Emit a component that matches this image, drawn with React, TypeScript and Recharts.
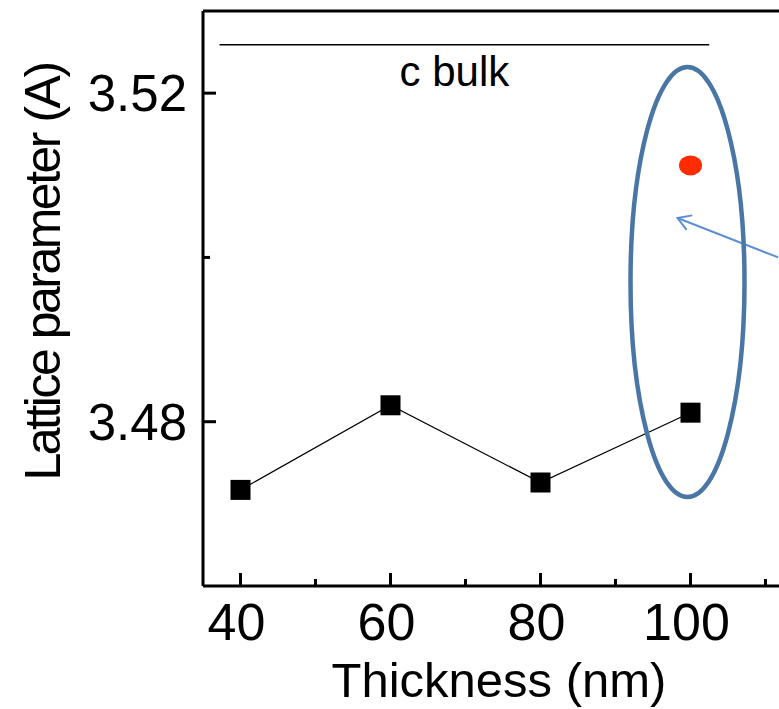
import {
  ComposedChart,
  Line,
  Scatter,
  XAxis,
  YAxis,
  ReferenceLine,
  ReferenceDot,
} from "recharts";

const thickness = [40, 60, 80, 100];
const latticeC = [3.4717, 3.482, 3.4726, 3.4811];

const highlightThickness = [100];
const highlightC = [3.5112];

const bulkC = 3.5259;
const bulkSpan = [37.2, 102.5];
const bulkLabel = "c bulk";

const xTicks = [40, 50, 60, 70, 80, 90, 100, 110];
const xMajor = [40, 60, 80, 100];
const yTicks = [3.48, 3.5, 3.52];
const yMajor = [3.48, 3.52];

// annotation ellipse centre and arrow (data units)
const ellipseCentre = { x: 99.6, y: 3.497 };
const arrowFrom = { x: 111.7, y: 3.5 };
const arrowTo = { x: 98.27, y: 3.5048 };

const mainData = thickness.map((t, i) => ({ x: t, y: latticeC[i] }));
const redData = highlightThickness.map((t, i) => ({ x: t, y: highlightC[i] }));

const FONT = "'Liberation Sans', Arial, sans-serif";

function XTick(props: any) {
  const { x, y, payload } = props;
  const major = xMajor.includes(payload.value);
  return (
    <g>
      <line x1={x} x2={x} y1={y} y2={y - (major ? 13 : 7)} stroke="#000" strokeWidth={3} />
      {major && (
        <text x={x - 4} y={y + 54} textAnchor="middle" fontSize={52} fontFamily={FONT} fill="#000">
          {payload.value}
        </text>
      )}
    </g>
  );
}

function YTick(props: any) {
  const { x, y, payload } = props;
  const major = yMajor.some((v) => Math.abs(v - payload.value) < 1e-6);
  return (
    <g>
      <line x1={x} x2={x + (major ? 13 : 7)} y1={y} y2={y} stroke="#000" strokeWidth={3} />
      {major && (
        <text x={x - 16} y={y + 18} textAnchor="end" fontSize={51} fontFamily={FONT} fill="#000">
          {payload.value.toFixed(2)}
        </text>
      )}
    </g>
  );
}

function Square(props: any) {
  const { cx, cy } = props;
  if (cx == null || cy == null) return null;
  return <rect x={cx - 10} y={cy - 10} width={20} height={20} fill="#000" />;
}

function RedDot(props: any) {
  const { cx, cy } = props;
  if (cx == null || cy == null) return null;
  return <ellipse cx={cx} cy={cy} rx={11.5} ry={10} fill="#fe2c00" />;
}

function Ellipse(props: any) {
  const { cx, cy } = props;
  return <ellipse cx={cx} cy={cy} rx={57} ry={215} fill="none" stroke="#4a76a6" strokeWidth={4.5} />;
}

function Arrow(props: any) {
  const { x1, y1, x2, y2 } = props;
  const ang = Math.atan2(y1 - y2, x1 - x2);
  const len = 15;
  const spread = 0.55;
  const ax = x2 + len * Math.cos(ang + spread);
  const ay = y2 + len * Math.sin(ang + spread);
  const bx = x2 + len * Math.cos(ang - spread);
  const by = y2 + len * Math.sin(ang - spread);
  return (
    <g stroke="#5b8fd2" strokeWidth={2} fill="none">
      <line x1={x1} y1={y1} x2={x2} y2={y2} />
      <polyline points={`${ax},${ay} ${x2},${y2} ${bx},${by}`} />
    </g>
  );
}

function YLabel() {
  return (
    <text
      x={60}
      y={272}
      transform="rotate(-90 60 272)"
      textAnchor="middle"
      fontSize={50}
      letterSpacing={-2.5}
      fontFamily={FONT}
      fill="#000"
    >
      Lattice parameter (A)
    </text>
  );
}

export default function App() {
  return (
    <div style={{ position: "absolute", left: 0, top: 0, background: "#fff" }}>
      <ComposedChart width={779} height={709} margin={{ top: 11, right: 0, bottom: 0, left: 0 }}>
        <XAxis
          type="number"
          dataKey="x"
          domain={[35, 111.8]}
          ticks={xTicks}
          interval={0}
          tickSize={0}
          tickMargin={0}
          tick={<XTick />}
          height={123}
          axisLine={{ stroke: "#000", strokeWidth: 3 }}
          allowDataOverflow
          label={{
            value: "Thickness (nm)",
            position: "insideBottom",
            offset: 12,
            dx: 8,
            fontSize: 49,
            fill: "#000",
            fontFamily: FONT,
          }}
        />
        <YAxis
          type="number"
          dataKey="y"
          domain={[3.46, 3.53]}
          ticks={yTicks}
          interval={0}
          tickSize={0}
          tickMargin={0}
          tick={<YTick />}
          width={203}
          axisLine={{ stroke: "#000", strokeWidth: 3 }}
          allowDataOverflow
          label={<YLabel />}
        />
        <ReferenceLine y={3.53} stroke="#000" strokeWidth={3} />
        <ReferenceLine
          segment={[
            { x: bulkSpan[0], y: bulkC },
            { x: bulkSpan[1], y: bulkC },
          ]}
          stroke="#000"
          strokeWidth={1.5}
          label={{
            value: bulkLabel,
            position: "bottom",
            offset: 12,
            dx: -10,
            fontSize: 42,
            fill: "#000",
            fontFamily: FONT,
          }}
        />
        <Line
          data={mainData}
          dataKey="y"
          stroke="#000"
          strokeWidth={1.2}
          dot={<Square />}
          activeDot={false}
          isAnimationActive={false}
        />
        <Scatter data={redData} dataKey="y" fill="#fe2c00" shape={<RedDot />} isAnimationActive={false} />
        <ReferenceDot x={ellipseCentre.x} y={ellipseCentre.y} shape={<Ellipse />} />
        <ReferenceLine segment={[arrowFrom, arrowTo]} shape={<Arrow />} />
      </ComposedChart>
    </div>
  );
}
